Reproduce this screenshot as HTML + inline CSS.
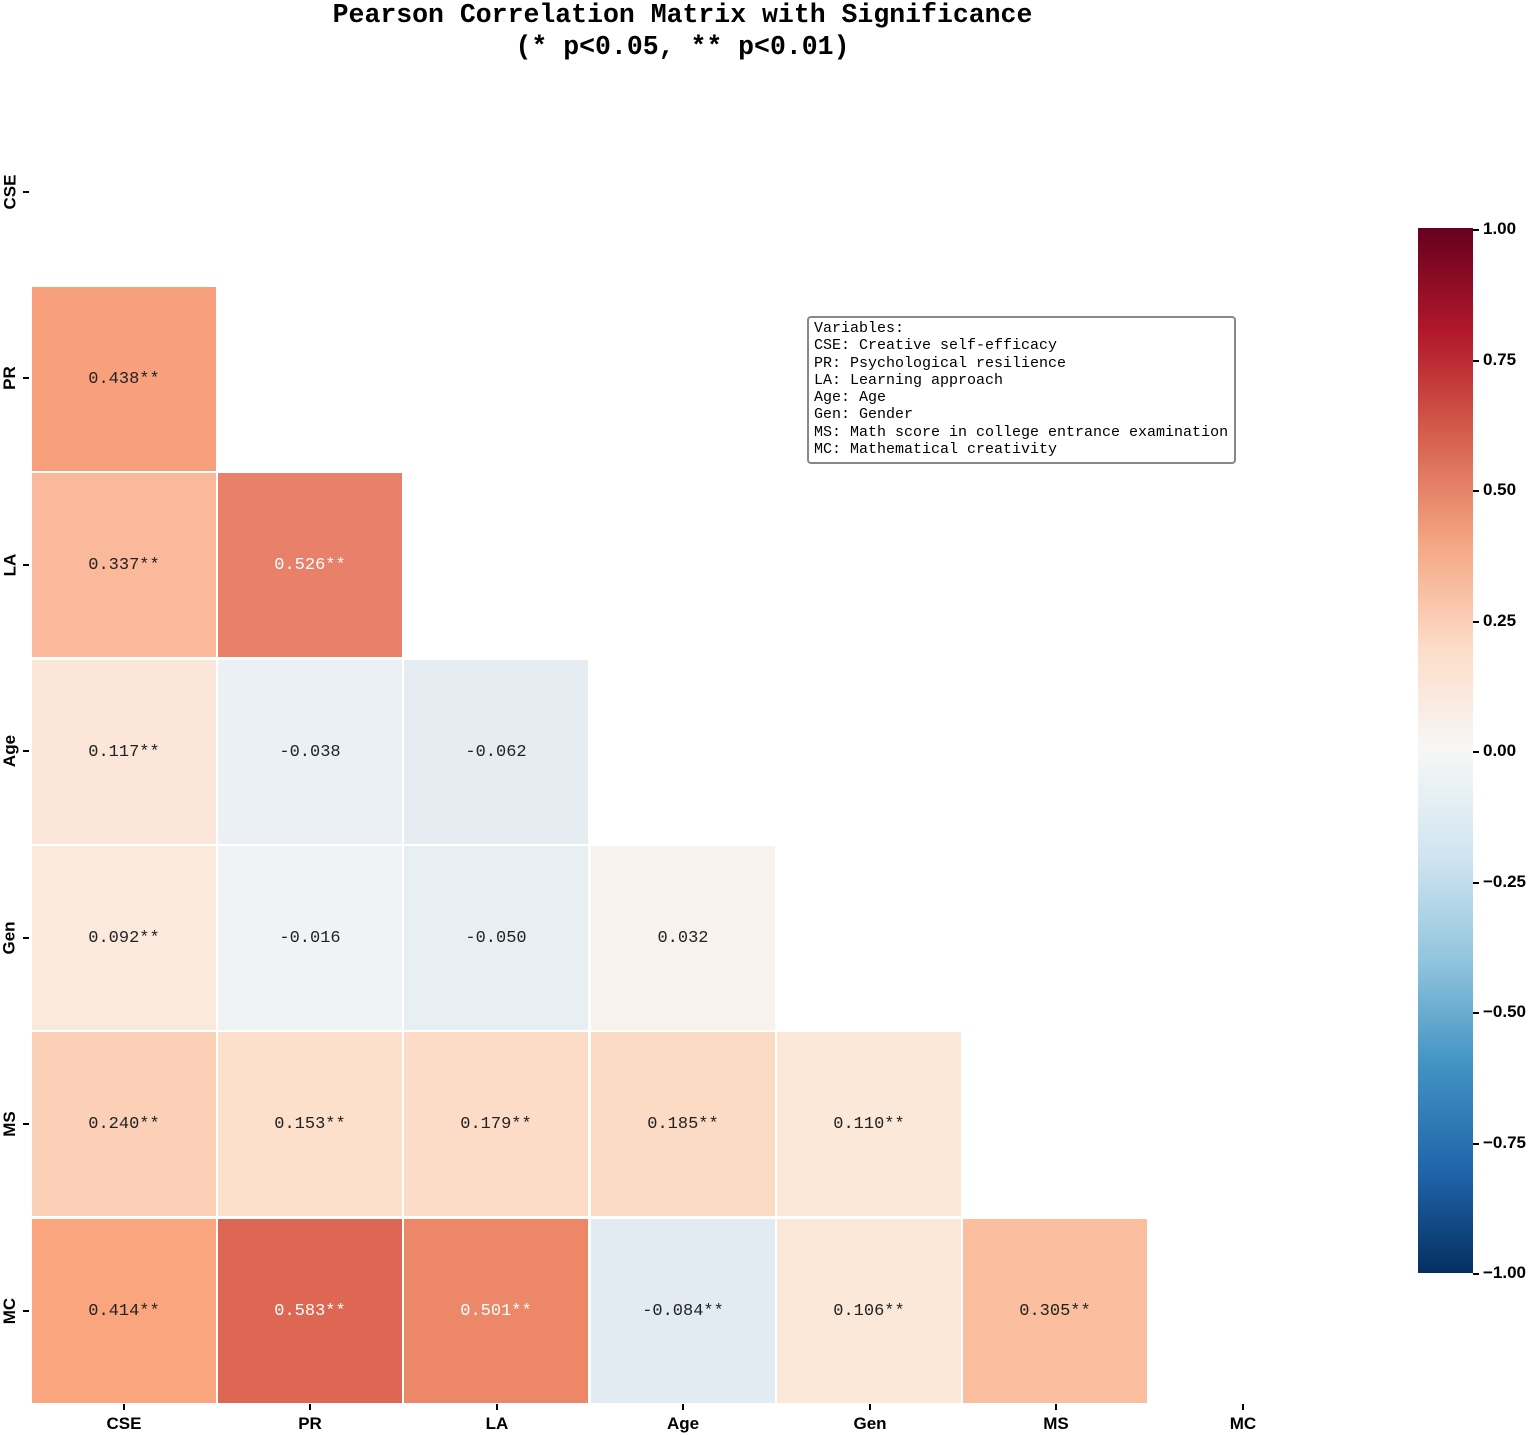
<!DOCTYPE html>
<html><head><meta charset="utf-8"><style>
body{margin:0;width:1535px;height:1435px;background:#fff;position:relative;overflow:hidden;font-family:"Liberation Mono",monospace}
.t{position:absolute;left:0;width:1365px;text-align:center;font-weight:bold;font-size:26.5px;color:#000}
.c{position:absolute;width:184px;height:184px;display:flex;align-items:center;justify-content:center;font-size:17px;color:#222}
.w{color:#fff}
.xl{position:absolute;top:1414px;width:60px;margin-left:-30px;text-align:center;font:bold 17px "Liberation Sans",sans-serif}
.xt{position:absolute;top:1404px;width:2px;height:6px;background:#000}
.yl{position:absolute;left:0;width:20px;height:40px;margin-top:-20px;display:flex;align-items:center;justify-content:center}
.yl span{transform:rotate(-90deg);font:bold 17px "Liberation Sans",sans-serif;white-space:nowrap}
.yt{position:absolute;left:23px;width:6px;height:2px;background:#000}
.cl{position:absolute;left:1473px;font:bold 17px "Liberation Sans",sans-serif;margin-top:-10px}
.cl:before{content:"";display:inline-block;width:6px;height:2px;background:#000;vertical-align:middle;margin-right:4px}
</style></head><body>
<div class="t" style="top:0">Pearson Correlation Matrix with Significance</div>
<div class="t" style="top:32px">(* p&lt;0.05, ** p&lt;0.01)</div>

<div class="c" style="left:32px;top:287px;background:#f8a07c">0.438**</div>
<div class="c" style="left:32px;top:473px;background:#fab99a">0.337**</div>
<div class="c w" style="left:218px;top:473px;background:#e8806a">0.526**</div>
<div class="c" style="left:32px;top:660px;background:#fbe6d9">0.117**</div>
<div class="c" style="left:218px;top:660px;background:#ebf0f4">-0.038</div>
<div class="c" style="left:404px;top:660px;background:#e6edf2">-0.062</div>
<div class="c" style="left:32px;top:846px;background:#fbeadc">0.092**</div>
<div class="c" style="left:218px;top:846px;background:#f0f3f5">-0.016</div>
<div class="c" style="left:404px;top:846px;background:#e8eff3">-0.050</div>
<div class="c" style="left:591px;top:846px;background:#f9f1ec">0.032</div>
<div class="c" style="left:32px;top:1032px;background:#fbd0b6">0.240**</div>
<div class="c" style="left:218px;top:1032px;background:#fce0cc">0.153**</div>
<div class="c" style="left:404px;top:1032px;background:#fcdcc6">0.179**</div>
<div class="c" style="left:591px;top:1032px;background:#fcdbc5">0.185**</div>
<div class="c" style="left:777px;top:1032px;background:#fbe8d8">0.110**</div>
<div class="c" style="left:32px;top:1219px;background:#fba57f">0.414**</div>
<div class="c w" style="left:218px;top:1219px;background:#dd6752">0.583**</div>
<div class="c w" style="left:404px;top:1219px;background:#ec8868">0.501**</div>
<div class="c" style="left:591px;top:1219px;background:#e2ebf2">-0.084**</div>
<div class="c" style="left:777px;top:1219px;background:#fbe8d8">0.106**</div>
<div class="c" style="left:963px;top:1219px;background:#fbbfa0">0.305**</div>

<div class="xt" style="left:123px"></div><div class="xl" style="left:124px">CSE</div>
<div class="xt" style="left:309px"></div><div class="xl" style="left:310px">PR</div>
<div class="xt" style="left:496px"></div><div class="xl" style="left:497px">LA</div>
<div class="xt" style="left:682px"></div><div class="xl" style="left:683px">Age</div>
<div class="xt" style="left:869px"></div><div class="xl" style="left:870px">Gen</div>
<div class="xt" style="left:1055px"></div><div class="xl" style="left:1056px">MS</div>
<div class="xt" style="left:1242px"></div><div class="xl" style="left:1243px">MC</div>

<div class="yl" style="top:192px"><span>CSE</span></div><div class="yt" style="top:191px"></div>
<div class="yl" style="top:378px"><span>PR</span></div><div class="yt" style="top:377px"></div>
<div class="yl" style="top:565px"><span>LA</span></div><div class="yt" style="top:564px"></div>
<div class="yl" style="top:751px"><span>Age</span></div><div class="yt" style="top:750px"></div>
<div class="yl" style="top:938px"><span>Gen</span></div><div class="yt" style="top:937px"></div>
<div class="yl" style="top:1124px"><span>MS</span></div><div class="yt" style="top:1123px"></div>
<div class="yl" style="top:1311px"><span>MC</span></div><div class="yt" style="top:1310px"></div>

<div style="position:absolute;left:807px;top:316px;width:420px;height:142px;border:2px solid #888;border-radius:4px;padding:2px 0 0 5px;font-size:15px;line-height:17.3px;color:#000;white-space:pre">Variables:
CSE: Creative self-efficacy
PR: Psychological resilience
LA: Learning approach
Age: Age
Gen: Gender
MS: Math score in college entrance examination
MC: Mathematical creativity</div>

<div style="position:absolute;left:1418px;top:228px;width:55px;height:1045px;background:linear-gradient(to top,#053061 0%,#2166ac 10%,#4393c3 20%,#92c5de 30%,#d1e5f0 40%,#f7f7f7 50%,#fddbc7 60%,#f4a582 70%,#d6604d 80%,#b2182b 90%,#67001f 100%)"></div>
<div class="cl" style="top:229px">1.00</div>
<div class="cl" style="top:360px">0.75</div>
<div class="cl" style="top:490px">0.50</div>
<div class="cl" style="top:621px">0.25</div>
<div class="cl" style="top:751px">0.00</div>
<div class="cl" style="top:882px">−0.25</div>
<div class="cl" style="top:1012px">−0.50</div>
<div class="cl" style="top:1143px">−0.75</div>
<div class="cl" style="top:1273px">−1.00</div>
</body></html>
